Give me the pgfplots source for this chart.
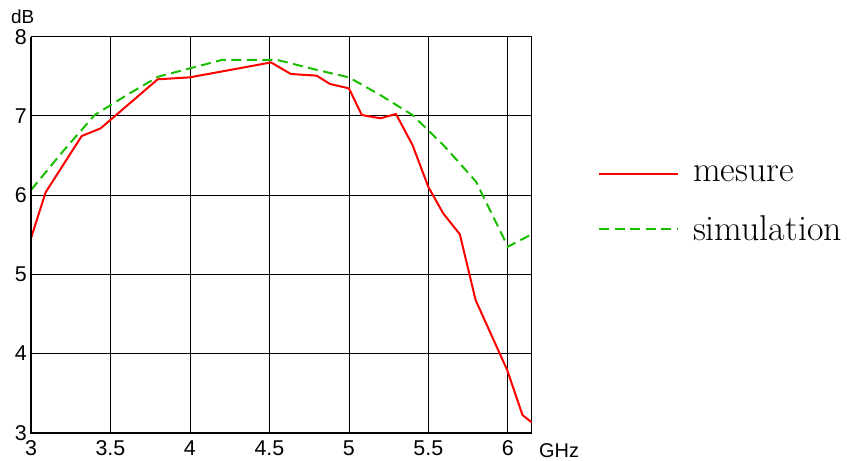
\documentclass[border=0pt]{standalone}
\usepackage{pgfplots}
\pgfplotsset{compat=1.18}
\usepackage{fontspec}
\setmainfont{Latin Modern Roman}
\newfontfamily\arial{Liberation Sans}
\definecolor{myred}{RGB}{255,0,0}
\definecolor{mygreen}{RGB}{25,190,0}
\begin{document}
\begin{tikzpicture}
\begin{axis}[
  name=ax,
  scale only axis,
  width=500.7bp, height=396bp,
  xmin=3, xmax=6.15, ymin=3, ymax=8,
  xtick={3,3.5,4,4.5,5,5.5,6},
  ytick={3,4,5,6,7,8},
  xticklabels={3,3.5,4,4.5,5,5.5,6},
  yticklabels={3,4,5,6,7,8},
  major tick length=0pt,
  grid=major,
  major grid style={black, line width=0.8bp},
  axis line style={black, line width=1bp},
  tick label style={font=\arial\fontsize{21.5}{24}\selectfont},
  xticklabel style={inner sep=0pt, anchor=north, yshift=-8bp},
  yticklabel style={inner sep=0pt, anchor=east, xshift=-4bp},
  legend style={draw=none, fill=none, at={(1.132,0.68)}, anchor=north west,
    font=\fontsize{36}{40}\selectfont, row sep=29bp, column sep=12bp, inner sep=0pt,
    nodes={inner sep=2bp}},
  legend cell align=left,
  legend image code/.code={\draw[#1] (0bp,0bp) -- (79bp,0bp);},
]
\addplot[myred, line width=2bp] coordinates {
(3,5.455) (3.092,6.035) (3.319,6.746) (3.438,6.843) (3.797,7.462) (4.0,7.487)
(4.51,7.675) (4.635,7.529) (4.797,7.508) (4.881,7.403) (5.0,7.348) (5.081,7.011)
(5.199,6.97) (5.296,7.024) (5.40,6.633) (5.499,6.106) (5.593,5.77) (5.698,5.505)
(5.797,4.675) (5.996,3.79) (6.092,3.223) (6.15,3.131)};
\addlegendentry{mesure}
\addplot[mygreen, line width=2bp, dash pattern=on 10bp off 5.5bp] coordinates {
(3,6.064) (3.2,6.55) (3.4,7.01) (3.6,7.26) (3.8,7.495) (4.0,7.60) (4.2,7.706)
(4.55,7.706) (4.8,7.58) (5.0,7.487) (5.2,7.26) (5.4,7.011) (5.6,6.62)
(5.8,6.169) (6.0,5.349) (6.15,5.505)};
\addlegendentry{simulation}
\end{axis}
\draw[black, line width=2.2bp] (ax.north west) -- (ax.south west) -- (ax.south east);
\node[anchor=base west, inner sep=0pt, font=\arial\fontsize{19}{22}\selectfont]
  at ([xshift=-20bp, yshift=13.4bp]ax.north west) {dB};
\node[anchor=base west, inner sep=0pt, font=\arial\fontsize{20}{24}\selectfont]
  at ([xshift=7.3bp, yshift=-24.8bp]ax.south east) {GHz};
\pgfresetboundingbox
\path[use as bounding box] (-31bp,-28.3bp) rectangle (816bp,432.7bp);
\end{tikzpicture}
\end{document}
